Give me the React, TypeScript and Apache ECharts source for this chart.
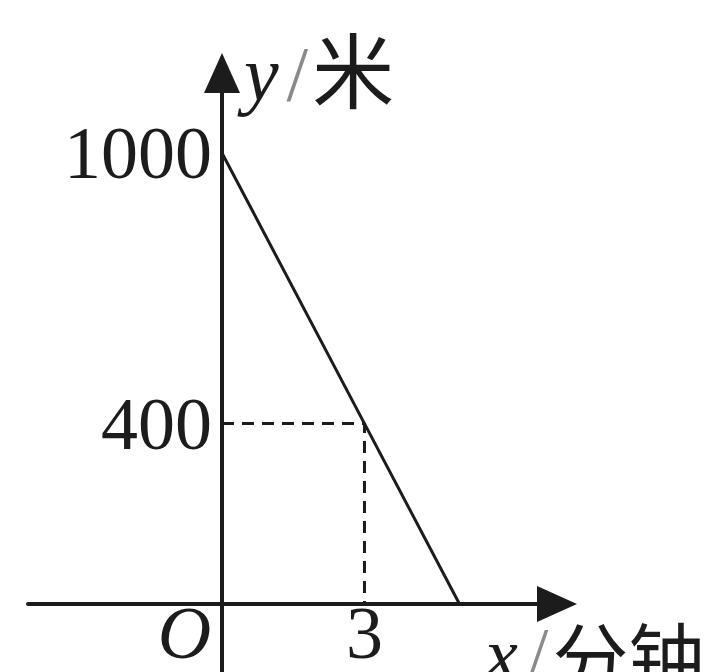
import React, { useEffect, useRef } from "react";
import * as echarts from "echarts";

// Distance y (米) against time x (分钟)
const lineX = [0, 3, 5];
const lineY = [1000, 400, 0];
// Guide lines from the point (3, 400) to both axes
const guideX = [0, 3, 3];
const guideY = [400, 400, 0];
const yTicks = [400, 1000];
const xTicks = [0, 3];

const INK = "#1c1c1c";
const SERIF = "'Liberation Serif', 'Times New Roman', serif";
const CJK = "'Noto Sans CJK SC', sans-serif";
const FS = 74;

// Grid edges; the axes cross at the origin inside the grid
const GRID = { left: 28, right: 153, top: 73, bottom: 0 };
const ORIGIN = { x: 222, y: 604 };

const xNameRich = {
  i: { fontFamily: SERIF, fontStyle: "italic", fontSize: FS, color: INK, lineHeight: FS },
  s: { fontFamily: SERIF, fontSize: FS, color: "#8a8a8a", lineHeight: FS, padding: [0, 4, 0, 10] },
  c: { fontFamily: CJK, fontSize: 76, color: INK, lineHeight: FS },
};

const yNameRich = {
  i: { fontFamily: SERIF, fontStyle: "italic", fontSize: 78, color: INK, lineHeight: 80 },
  s: { fontFamily: SERIF, fontSize: 78, color: "#8a8a8a", lineHeight: 80, padding: [0, 4, 0, 8] },
  c: { fontFamily: CJK, fontSize: 82, color: INK, lineHeight: 80, padding: [0, 0, 14, 0] },
};

export default function App() {
  const ref = useRef<HTMLDivElement>(null);

  useEffect(() => {
    if (!ref.current) return;
    const chart = echarts.init(ref.current, undefined, { renderer: "svg" });
    chart.setOption({
      animation: false,
      backgroundColor: "#ffffff",
      grid: { ...GRID, containLabel: false, outerBoundsMode: "none" },
      xAxis: {
        type: "value",
        min: -4.084,
        max: 7.053,
        position: "bottom",
        offset: -(672 - GRID.bottom - ORIGIN.y),
        splitLine: { show: false },
        axisTick: { show: false },
        axisLine: {
          onZero: false,
          symbol: ["none", "triangle"],
          symbolSize: [36, 40],
          lineStyle: { color: INK, width: 4 },
        },
        axisLabel: {
          customValues: xTicks,
          margin: -8,
          formatter: (v: number) => (v === 0 ? "{o|O}" : "{n|" + v + "}"),
          rich: {
            o: {
              fontFamily: SERIF,
              fontStyle: "italic",
              fontSize: FS,
              color: INK,
              padding: [0, 75, 0, 0],
            },
            n: { fontFamily: SERIF, fontSize: FS, color: INK },
          },
        },
        name: "{i|x}{s|/}{c|分钟}",
        nameLocation: "end",
        nameGap: -72,
        nameTextStyle: {
          align: "left",
          verticalAlign: "top",
          padding: [13, 0, 0, 0],
          rich: xNameRich,
        },
      },
      yAxis: {
        type: "value",
        min: -150.8,
        max: 1177.4,
        position: "left",
        offset: -(ORIGIN.x - GRID.left),
        splitLine: { show: false },
        axisTick: { show: false },
        axisLine: {
          onZero: false,
          symbol: ["none", "triangle"],
          symbolSize: [36, 40],
          lineStyle: { color: INK, width: 4 },
        },
        axisLabel: {
          customValues: yTicks,
          margin: 10,
          fontFamily: SERIF,
          fontSize: FS,
          color: INK,
          formatter: (v: number) => String(v),
        },
        name: "{i|y}{s|/}{c|米}",
        nameLocation: "end",
        nameGap: 0,
        nameTextStyle: {
          align: "left",
          verticalAlign: "middle",
          padding: [0, 0, 0, 22],
          rich: yNameRich,
        },
      },
      series: [
        {
          type: "line",
          data: lineX.map((x, i) => [x, lineY[i]]),
          symbol: "none",
          lineStyle: { color: INK, width: 3 },
          clip: false,
        },
        {
          type: "line",
          data: guideX.map((x, i) => [x, guideY[i]]),
          symbol: "none",
          lineStyle: { color: INK, width: 3, type: [12, 8] },
          clip: false,
        },
      ],
    });
    return () => chart.dispose();
  }, []);

  return (
    <div
      ref={ref}
      style={{ position: "fixed", left: 0, top: 0, width: 710, height: 672 }}
    />
  );
}
